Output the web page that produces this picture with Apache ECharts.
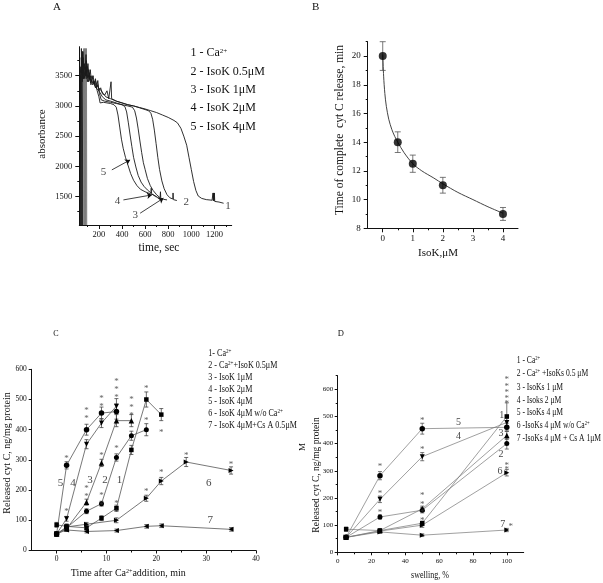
<!DOCTYPE html>
<html><head><meta charset="utf-8">
<script src="https://cdn.jsdelivr.net/npm/echarts@6/dist/echarts.min.js"></script>
<style>html,body{margin:0;padding:0;background:#fff}#c{width:603px;height:583px}</style>
</head><body><div id="c"></div>
<script>
// ---------------- Panel A data (time, sec ; absorbance) ----------------
const aTrace1 = [[40,3650],[45,1030],[48,3950],[52,3500],[56,1030],[60,3900],[64,3700],[80,3600],[88,3850],[95,3550],[105,3700],[115,3450],[125,3600],[135,3400],[150,3500],[160,3350],[170,3450],[180,3300],[190,3420],[200,3250],[215,3300],[230,3200],[250,3180],[270,3250],[285,3120],[300,3150],[305,3400],[310,3120],[350,3080],[400,3050],[450,3020],[500,3000],[550,2975],[600,2950],[650,2920],[700,2890],[750,2850],[800,2810],[850,2760],[880,2720],[910,2630],[935,2500],[960,2350],[980,2150],[1000,1950],[1020,1750],[1040,1600],[1060,1510],[1090,1470],[1130,1450],[1180,1440],[1185,1440],[1188,1560],[1191,1430],[1194,1560],[1197,1430],[1200,1560],[1203,1420],[1240,1410],[1280,1390]];
const aTrace2 = [[40,3500],[44,1030],[47,3800],[62,3450],[82,3500],[92,3750],[102,3480],[112,3600],[125,3420],[140,3500],[155,3380],[170,3420],[185,3330],[200,3350],[220,3250],[240,3200],[260,3150],[300,3120],[350,3080],[400,3050],[450,3020],[500,3000],[550,2970],[600,2940],[630,2920],[650,2880],[665,2780],[680,2600],[695,2380],[710,2150],[725,1950],[745,1760],[765,1630],[790,1530],[815,1480],[840,1460],[842,1560],[845,1450],[875,1435]];
const aTrace3 = [[40,3450],[52,3750],[78,3450],[90,3600],[100,3400],[115,3550],[130,3350],[150,3400],[170,3300],[190,3350],[205,3200],[220,3100],[250,3080],[300,3060],[350,3040],[400,3020],[450,3000],[490,2980],[510,2920],[525,2800],[540,2620],[555,2420],[570,2230],[585,2060],[600,1950],[620,1800],[645,1680],[670,1600],[700,1530],[730,1480],[733,1580],[736,1470],[760,1455],[790,1445]];
const aTrace4 = [[40,3550],[50,3650],[56,3400],[63,3800],[72,3500],[85,3650],[95,3450],[110,3500],[130,3380],[150,3420],[175,3300],[200,3250],[230,3150],[260,3100],[300,3080],[350,3050],[400,3020],[425,2990],[440,2900],[455,2720],[470,2520],[485,2330],[500,2150],[520,1990],[540,1850],[565,1740],[590,1670],[620,1610],[650,1560],[653,1640],[656,1550],[690,1500],[730,1470]];
const aTrace5 = [[40,3600],[53,3550],[60,3900],[67,3450],[76,3700],[86,3500],[98,3650],[110,3400],[125,3500],[145,3350],[165,3400],[185,3250],[200,3150],[210,3050],[240,3060],[270,3050],[300,3040],[330,3020],[350,2980],[365,2850],[380,2650],[395,2450],[410,2300],[430,2150],[450,2030],[475,1880],[500,1770],[530,1680],[560,1620],[600,1580],[640,1550],[670,1530],[700,1500]];
const aSpike = [[66,1030],[68,3950],[71,1030],[74,3950],[77,1030],[80,3950],[83,1030],[86,3950],[89,1030],[92,3950],[95,1030]];
const aNums = [[239,1904,'5'],[360,1429,'4'],[514,1197,'3'],[956,1417,'2'],[1317,1335,'1']];
const aArrows = [[[312,1942],[470,2107]],[[412,1445],[659,1528]],[[557,1225],[759,1474]]];
const aXTicks = [200,400,600,800,1000,1200];
const aXMinor = [100,300,500,700,900,1100,1300];
const aYTicks = [1500,2000,2500,3000,3500];
const aYMinor = [1250,1750,2250,2750,3250,3750];
const aLegend = ['1 - Ca{s|2+}','2 - IsoK 0.5μM','3 - IsoK 1μM','4 - IsoK 2μM','5 - IsoK 4μM'];

// ---------------- Panel B data ----------------
const bX = [0,0.5,1,2,4];
const bY = [20,14,12.5,11,9];
const bErr = [1,0.72,0.6,0.55,0.45];
const bFit = [[0,20.1],[0.03,18.6],[0.07,17.4],[0.12,16.5],[0.2,15.6],[0.3,14.9],[0.4,14.4],[0.5,14.0],[0.7,13.3],[1.0,12.5],[1.3,12.0],[1.7,11.5],[2.0,11.1],[2.5,10.5],[3.0,10.0],[3.5,9.5],[4.0,9.05]];
const bXTicks = [0,1,2,3,4];
const bXMinor = [0.5,1.5,2.5,3.5];
const bYTicks = [8,10,12,14,16,18,20];
const bYMinor = [9,11,13,15,17,19,21];

// ---------------- Panel C data (min ; ng/mg) ----------------
const c1 = [[0,85],[2,80],[6,75],[9,107],[12,140],[15,333],[18,500],[21,450]];
const c2 = [[0,55],[2,75],[6,130],[9,155],[12,308],[15,380],[18,400]];
const c3 = [[0,55],[2,72],[6,160],[9,290],[12,430],[15,430]];
const c4 = [[0,55],[2,105],[6,352],[9,422],[12,478]];
const c5 = [[0,55],[2,282],[6,400],[9,455],[12,460]];
const c6 = [[0,55],[2,78],[6,87],[12,100],[18,173],[21,230],[26,293],[35,265]];
const c7 = [[0,55],[2,68],[6,63],[12,66],[18,80],[21,82],[35,70]];
const c1Err = [8,8,8,8,10,15,25,20];
const c2Err = [6,6,8,8,12,15,20];
const c3Err = [6,6,10,12,20,20];
const c4Err = [6,8,15,15,25];
const c5Err = [6,12,18,20,25];
const c6Err = [6,6,6,8,10,12,15,12];
const c7Err = [6,5,5,5,6,6,6];
const cStars = [[2,314],[2,137],[6,444],[6,470],[6,187],[6,213],[9,483],[9,511],[9,322],[9,156],[9,189],[12,513],[12,541],[12,569],[12,344],[12,133],[12,164],[15,455],[15,482],[15,509],[18,544],[18,439],[18,202],[21,400],[21,267],[26,324],[35,294]];
const cNums = [[0.8,222,'5'],[3.3,222,'4'],[6.7,232,'3'],[9.7,232,'2'],[12.6,232,'1'],[30.5,224,'6'],[30.8,102,'7']];
const cXTicks = [0,10,20,30,40];
const cXMinor = [5,15,25,35];
const cYTicks = [0,100,200,300,400,500,600];
const cLegend = ['1- Ca{s|2+}','2 - Ca{s|2+}+IsoK 0.5μM','3 - IsoK 1μM','4 - IsoK 2μM','5 - IsoK 4μM','6 - IsoK 4μM w/o Ca{s|2+}','7 - IsoK 4μM+Cs A 0.5μM'];

// ---------------- Panel D data (swelling % ; ng/mg) ----------------
const d1 = [[5,85],[25,80],[50,107],[100,500]];
const d2 = [[5,55],[25,130],[50,155],[100,400]];
const d3 = [[5,55],[25,80],[50,160],[100,430]];
const d4 = [[5,55],[25,195],[50,352],[100,478]];
const d5 = [[5,55],[25,282],[50,455],[100,460]];
const d6 = [[5,55],[25,78],[50,100],[100,293]];
const d7 = [[5,55],[25,75],[50,63],[100,82]];
const d1Err = [8,6,8,50];
const d2Err = [6,8,10,20];
const d3Err = [6,6,10,15];
const d4Err = [6,12,15,15];
const d5Err = [6,15,20,15];
const d6Err = [6,6,8,12];
const d7Err = [6,5,5,6];
const dStars = [[25,324],[25,225],[25,155],[50,495],[50,388],[50,217],[50,186],[50,155],[50,125],[100,643],[100,618],[100,596],[100,574],[100,556],[100,327],[100,312],[102.4,104]];
const dNums = [[71.4,478,'5'],[71.4,428,'4'],[97,505,'1'],[96.6,438,'3'],[96.6,362,'2'],[96,299,'6'],[97.6,104,'7']];
const dXTicks = [0,20,40,60,80,100];
const dXMinor = [10,30,50,70,90];
const dYTicks = [0,100,200,300,400,500,600];
const dYMinor = [50,150,250,350,450,550,650];
const dLegend = ['1 - Ca{s|2+}','2 - Ca{s|2+} +IsoKs 0.5 μM','3 - IsoKs 1 μM','4 - Isoks 2 μM','5 - IsoKs 4 μM','6 -IsoKs 4 μM w/o Ca{s|2+}','7 -IsoKs 4 μM + Cs A 1μM'];

// ---------------- helpers ----------------
const FONT = 'Liberation Serif';
const INK = '#111';
function axes(grid, min, max, major, minor, fs, margin, pos, tl) {
  const base = {type:'value', gridIndex:grid, min, max, position:pos, offset:0, splitLine:{show:false}};
  const out = [Object.assign({}, base, {
    axisLine:{show:true, onZero:false, lineStyle:{color:INK, width:1}},
    axisTick:{show:true, customValues:major, length:tl||4, lineStyle:{color:INK, width:1}},
    axisLabel:{show:true, customValues:major, formatter: v => String(v), fontFamily:FONT, fontSize:fs, color:INK, margin:margin}
  }), Object.assign({}, base, {
    axisLine:{show:false, onZero:false},
    axisTick:{show:minor.length>0, customValues:minor.length?minor:[min], length:2, lineStyle:{color:INK, width:1}},
    axisLabel:{show:false}
  })];
  return out;
}
const xAxis = [].concat(
  axes(0, 30, 1350, aXTicks, aXMinor, 8.5, 5, 'bottom'),
  axes(1, -0.5, 4.5, bXTicks, bXMinor, 9, 6, 'bottom'),
  axes(2, -5, 40, cXTicks, cXMinor, 7.5, 5, 'bottom', 3),
  axes(3, 0, 110, dXTicks, dXMinor, 7, 5, 'bottom', 3)
);
const yAxis = [].concat(
  axes(0, 1030, 3980, aYTicks, aYMinor, 8.5, 7, 'left'),
  axes(1, 8, 21, bYTicks, bYMinor, 9, 7, 'left'),
  axes(2, 0, 600, cYTicks, [], 7.5, 5, 'left', 3),
  axes(3, 0, 650, dYTicks, dYMinor, 7, 4.5, 'left', 3)
);
function errRender(color, hw) {
  return function(params, api) {
    const x = api.value(0), y = api.value(1), e = api.value(2);
    const t = api.coord([x, y + e]), b = api.coord([x, y - e]);
    const st = {stroke:color, lineWidth:0.8};
    return {type:'group', children:[
      {type:'line', shape:{x1:t[0], y1:t[1], x2:b[0], y2:b[1]}, style:st},
      {type:'line', shape:{x1:t[0]-hw, y1:t[1], x2:t[0]+hw, y2:t[1]}, style:st},
      {type:'line', shape:{x1:b[0]-hw, y1:b[1], x2:b[0]+hw, y2:b[1]}, style:st}
    ]};
  };
}
function errSeries(ai, pts, errs, color, hw) {
  return {type:'custom', xAxisIndex:ai, yAxisIndex:ai, renderItem:errRender(color, hw), encode:{x:0, y:1},
    data: pts.map((p, i) => [p[0], p[1], errs[i]]), z:3, silent:true};
}
function labelSeries(ai, pts, fs, color, offY) {
  return {type:'scatter', xAxisIndex:ai, yAxisIndex:ai, symbolSize:1, itemStyle:{color:'rgba(0,0,0,0)'}, silent:true, z:6,
    data: pts.map(p => [p[0], p[1], p[2]]),
    label:{show:true, position:'inside', offset:[0, offY||0], formatter: p => p.data[2], fontFamily:FONT, fontSize:fs, color:color||INK}};
}
function starSeries(ai, pts) {
  return labelSeries(ai, pts.map(p => [p[0], p[1], '*']), 9, '#333', 2.5);
}
const SYM = {
  rect:'rect', circ:'circle', up:'triangle',
  down:'path://M0,0L10,0L5,10Z', right:'path://M0,0L10,5L0,10Z', left:'path://M10,0L0,5L10,10Z'
};
function markLine(ai, pts, sym, size, lc, lw) {
  return {type:'line', xAxisIndex:ai, yAxisIndex:ai, data:pts, symbol:sym, symbolSize:size, showSymbol:true,
    itemStyle:{color:'#000'}, lineStyle:{color:lc, width:lw}, z:4, silent:true};
}
function trace(pts, color, w) {
  return {type:'line', xAxisIndex:0, yAxisIndex:0, data:pts, showSymbol:false, symbol:'none',
    lineStyle:{color:color, width:w}, z:3, silent:true};
}
function T(x, y, text, fs, opt) {
  opt = opt || {};
  return {type:'text', x:x, y:y, rotation:opt.rot||0, scaleX:opt.sx||1, silent:true, z:10,
    style:{text:text, fontFamily:FONT, fontSize:fs, fill:INK, align:opt.align||'left', verticalAlign:'middle',
      rich:{s:{fontFamily:FONT, fontSize:Math.round(fs*0.6), fill:INK, verticalAlign:'top'}}}};
}

const series = [
  // Panel A
  trace(aSpike, '#777', 0.7),
  trace(aTrace1, '#1a1a1a', 0.9), trace(aTrace2, '#1a1a1a', 0.9), trace(aTrace3, '#1a1a1a', 0.9),
  trace(aTrace4, '#1a1a1a', 0.9), trace(aTrace5, '#1a1a1a', 0.9),
  {type:'lines', coordinateSystem:'cartesian2d', xAxisIndex:0, yAxisIndex:0, silent:true, z:5,
    symbol:['none','arrow'], symbolSize:5, lineStyle:{color:INK, width:0.8, opacity:1},
    data: aArrows.map(c => ({coords:c}))},
  labelSeries(0, aNums, 11),
  // Panel B
  {type:'line', xAxisIndex:2, yAxisIndex:2, data:bFit, smooth:0.3, showSymbol:false, symbol:'none', lineStyle:{color:'#444', width:1}, silent:true, z:3},
  errSeries(2, bX.map((x,i)=>[x,bY[i]]), bErr, '#555', 3),
  {type:'scatter', xAxisIndex:2, yAxisIndex:2, data:bX.map((x,i)=>[x,bY[i]]), symbol:'circle', symbolSize:8, itemStyle:{color:'#000'}, silent:true, z:5},
  // Panel C
  errSeries(4, c1, c1Err, '#444', 2), errSeries(4, c2, c2Err, '#444', 2), errSeries(4, c3, c3Err, '#444', 2),
  errSeries(4, c4, c4Err, '#444', 2), errSeries(4, c5, c5Err, '#444', 2), errSeries(4, c6, c6Err, '#444', 2), errSeries(4, c7, c7Err, '#444', 2),
  markLine(4, c1, SYM.rect, 4.5, '#555', 0.8), markLine(4, c2, SYM.circ, 5, '#555', 0.8), markLine(4, c3, SYM.up, 5.5, '#555', 0.8),
  markLine(4, c4, SYM.down, 5, '#555', 0.8), markLine(4, c5, SYM.circ, 5.5, '#555', 0.8), markLine(4, c6, SYM.right, 5, '#555', 0.8), markLine(4, c7, SYM.left, 5, '#555', 0.8),
  starSeries(4, cStars), labelSeries(4, cNums, 11),
  // Panel D
  errSeries(6, d1, d1Err, '#555', 2), errSeries(6, d2, d2Err, '#555', 2), errSeries(6, d3, d3Err, '#555', 2),
  errSeries(6, d4, d4Err, '#555', 2), errSeries(6, d5, d5Err, '#555', 2), errSeries(6, d6, d6Err, '#555', 2), errSeries(6, d7, d7Err, '#555', 2),
  markLine(6, d1, SYM.rect, 4.5, '#777', 0.7), markLine(6, d2, SYM.circ, 5, '#777', 0.7), markLine(6, d3, SYM.up, 5.5, '#777', 0.7),
  markLine(6, d4, SYM.down, 5, '#777', 0.7), markLine(6, d5, SYM.circ, 5.5, '#777', 0.7), markLine(6, d6, SYM.right, 5, '#777', 0.7), markLine(6, d7, SYM.right, 5, '#777', 0.7),
  starSeries(6, dStars), labelSeries(6, dNums, 10)
];

const graphic = [
  T(53, 7, 'A', 11), T(312, 7, 'B', 11), T(53.3, 334, 'C', 8), T(337.7, 334, 'D', 8.5),
  T(42, 134, 'absorbance', 11, {rot:Math.PI/2, align:'center'}),
  T(159, 248, 'time, sec', 11.5, {align:'center'}),
  T(340, 130, 'Time of complete  cyt C release, min', 11.5, {rot:Math.PI/2, align:'center'}),
  T(438, 253, 'IsoK,μM', 11, {align:'center'}),
  T(7, 453, 'Released cyt C, ng/mg protein', 10, {rot:Math.PI/2, align:'center'}),
  T(128.3, 573, 'Time after Ca{s|2+}addition, min', 10, {align:'center'}),
  T(316.7, 475, 'Released cyt C, ng/mg protein', 9.5, {rot:Math.PI/2, align:'center', sx:1}),
  T(303, 447, 'M', 9, {rot:Math.PI/2, align:'center'}),
  T(430, 575, 'swelling, %', 10, {align:'center', sx:0.8})
];
const aRows = [53.3, 71.7, 90, 108.3, 126.7];
aLegend.forEach((t, i) => graphic.push(T(190.5, aRows[i], t, 12)));
const cRows = [353.3, 365, 377.3, 389.3, 401, 413.3, 425];
cLegend.forEach((t, i) => graphic.push(T(208.3, cRows[i], t, 9.5, {sx:0.85})));
const dRows = [360, 373.3, 387.3, 400, 412.3, 425, 438.3];
dLegend.forEach((t, i) => graphic.push(T(516.7, dRows[i], t, 10, {sx:0.76})));

const chart = echarts.init(document.getElementById('c'));
chart.setOption({
  animation:false,
  backgroundColor:'#fff',
  grid:[
    {left:79.3, top:46.7, width:152.4, height:178.3},
    {left:367.7, top:41.7, width:150.3, height:186.6},
    {left:31.7, top:369.3, width:224.3, height:181.2},
    {left:337.7, top:375.7, width:186, height:176.6}
  ],
  xAxis:xAxis, yAxis:yAxis, series:series, graphic:graphic
});
</script></body></html>
